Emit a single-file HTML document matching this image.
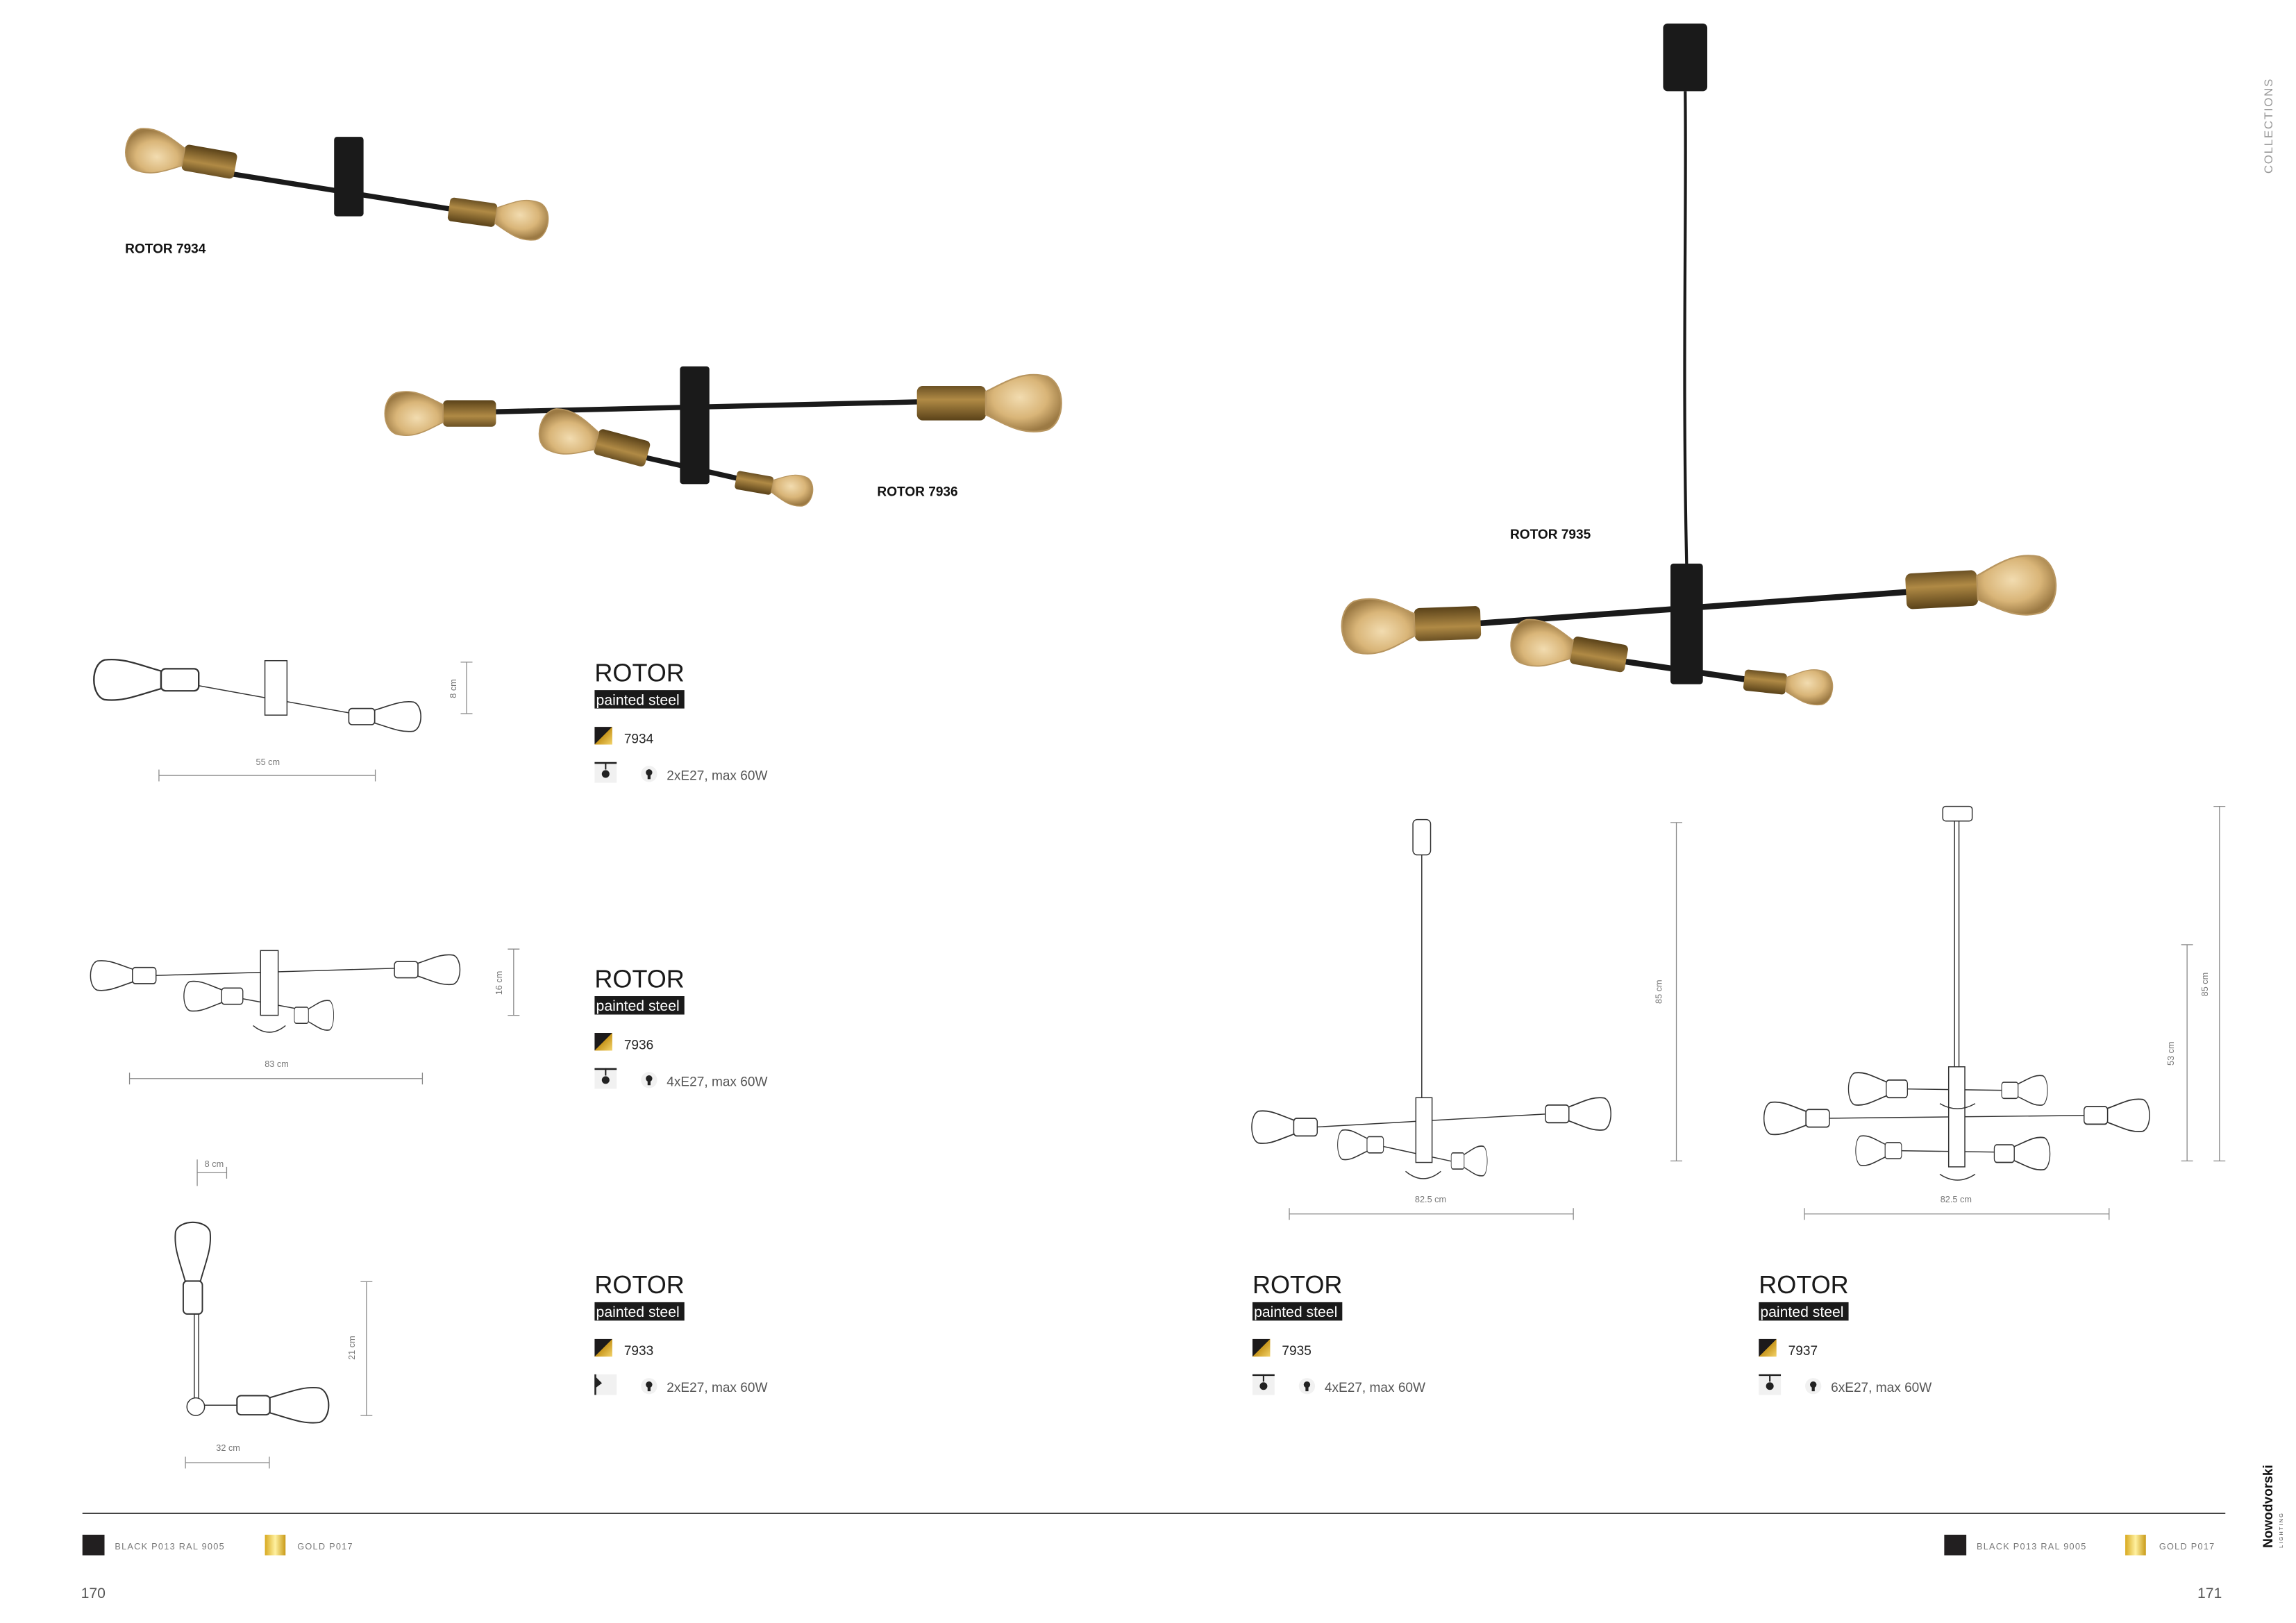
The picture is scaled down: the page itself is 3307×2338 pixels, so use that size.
<!DOCTYPE html>
<html><head><meta charset="utf-8"><style>
html,body{margin:0;padding:0;background:#fff}
svg{display:block}
text{font-family:"Liberation Sans",sans-serif}
</style></head><body>
<svg width="3307" height="2338" viewBox="0 0 1560 1103" preserveAspectRatio="none" xmlns="http://www.w3.org/2000/svg">
<defs>
<linearGradient id="gold" x1="0" y1="0" x2="0" y2="1"><stop offset="0" stop-color="#6b5124"/><stop offset="0.4" stop-color="#b08a45"/><stop offset="1" stop-color="#5a4219"/></linearGradient>
<linearGradient id="goldsw" x1="0" y1="0" x2="1" y2="0"><stop offset="0" stop-color="#d8a920"/><stop offset="0.5" stop-color="#fff1a0"/><stop offset="1" stop-color="#c99a18"/></linearGradient>
<linearGradient id="diag" x1="0" y1="0" x2="1" y2="1"><stop offset="0.5" stop-color="#1c1a1b"/><stop offset="0.5" stop-color="#c8961c"/><stop offset="1" stop-color="#f3d36a"/></linearGradient>
<radialGradient id="amber" cx="0.45" cy="0.4" r="0.6"><stop offset="0" stop-color="#f2dcb0"/><stop offset="0.6" stop-color="#d9b578"/><stop offset="1" stop-color="#9c7a44"/></radialGradient>
<g id="pb"><rect x="0" y="-9" width="36" height="18" rx="3" fill="url(#gold)"/><path d="M36,-6 C48,-12 56,-17 68,-14 C78,-10 78,10 68,14 C56,17 48,12 36,6Z" fill="url(#amber)" stroke="#b89660" stroke-width="0.8"/></g>
<g id="ob" fill="#fff" stroke="#333" stroke-width="0.7"><rect x="0" y="-5" width="16" height="10" rx="2"/><path d="M16,-4 C26,-7 32,-10 40,-9 C46,-7 46,7 40,9 C32,10 26,7 16,4Z"/></g>
<g id="mount"><rect x="0" y="0" width="15" height="14" fill="#f1f1f1"/><line x1="0" y1="0.5" x2="15" y2="0.5" stroke="#222" stroke-width="1.2"/><line x1="7.5" y1="0" x2="7.5" y2="5" stroke="#222" stroke-width="1"/><circle cx="7.5" cy="8" r="2.6" fill="#222"/></g>
<g id="bulbi"><circle cx="0" cy="0" r="5.5" fill="#f1f1f1"/><circle cx="0" cy="-1" r="2.2" fill="#222"/><rect x="-1" y="0.5" width="2" height="3" fill="#222"/></g>
</defs>

<!-- ROTOR 7934 photo -->
<line x1="150" y1="117" x2="312" y2="143" stroke="#1a1a1a" stroke-width="3.5"/>
<rect x="227" y="93" width="20" height="54" rx="2" fill="#1a1a1a"/>
<g transform="translate(160,113) rotate(190) scale(1.0)"><use href="#pb"/></g>
<g transform="translate(305,142) rotate(8) scale(0.9)"><use href="#pb"/></g>
<text x="85" y="172" font-size="9" font-weight="bold" fill="#111">ROTOR 7934</text>

<!-- ROTOR 7936 photo -->
<line x1="330" y1="280" x2="628" y2="273" stroke="#1a1a1a" stroke-width="3.5"/>
<line x1="430" y1="309" x2="505" y2="326" stroke="#1a1a1a" stroke-width="3.5"/>
<rect x="462" y="249" width="20" height="80" rx="2" fill="#1a1a1a"/>
<g transform="translate(337,281) rotate(180)"><use href="#pb"/></g>
<g transform="translate(623,274) scale(1.3)"><use href="#pb"/></g>
<g transform="translate(440,309) rotate(195)"><use href="#pb"/></g>
<g transform="translate(500,326) rotate(10) scale(0.7)"><use href="#pb"/></g>
<text x="596" y="337" font-size="9" font-weight="bold" fill="#111">ROTOR 7936</text>

<!-- ROTOR 7935 photo -->
<rect x="1130" y="16" width="30" height="46" rx="3" fill="#1a1a1a"/>
<path d="M1145,62 C1146,150 1143,250 1146,385" stroke="#1a1a1a" stroke-width="2" fill="none"/>
<line x1="1000" y1="424" x2="1300" y2="402" stroke="#1a1a1a" stroke-width="4"/>
<line x1="1100" y1="449" x2="1188" y2="462" stroke="#1a1a1a" stroke-width="4"/>
<rect x="1135" y="383" width="22" height="82" rx="2" fill="#1a1a1a"/>
<g transform="translate(1006,423) rotate(178) scale(1.25)"><use href="#pb"/></g>
<g transform="translate(1295,402) rotate(-3) scale(1.35)"><use href="#pb"/></g>
<g transform="translate(1105,448) rotate(190) scale(1.05)"><use href="#pb"/></g>
<g transform="translate(1185,462) rotate(6) scale(0.8)"><use href="#pb"/></g>
<text x="1026" y="366" font-size="9" font-weight="bold" fill="#111">ROTOR 7935</text>

<!-- Line drawing 7934 -->
<g stroke="#333" stroke-width="0.7" fill="#fff">
<line x1="135" y1="466" x2="240" y2="485"/>
<rect x="180" y="449" width="15" height="37"/>
<g transform="translate(135,462) scale(-1.6,1.5)"><use href="#ob"/></g>
<g transform="translate(237,487) scale(1.1)"><use href="#ob"/></g>
</g>
<g stroke="#888" stroke-width="0.6" fill="#888">
<line x1="108" y1="527" x2="255" y2="527"/><line x1="108" y1="523" x2="108" y2="531"/><line x1="255" y1="523" x2="255" y2="531"/>
<line x1="317" y1="450" x2="317" y2="485"/><line x1="313" y1="450" x2="321" y2="450"/><line x1="313" y1="485" x2="321" y2="485"/>
</g>
<text x="182" y="520" font-size="6" fill="#777" text-anchor="middle">55 cm</text>
<text x="310" y="468" font-size="6" fill="#777" text-anchor="middle" transform="rotate(-90 310 468)">8 cm</text>

<!-- Line drawing 7936 -->
<g stroke="#333" stroke-width="0.7" fill="#fff">
<line x1="104" y1="663" x2="270" y2="658"/>
<line x1="150" y1="676" x2="215" y2="688"/>
<rect x="177" y="646" width="12" height="44"/>
<g transform="translate(106,663) scale(-1.0,1.1)"><use href="#ob"/></g>
<g transform="translate(268,659) scale(1.0,1.1)"><use href="#ob"/></g>
<g transform="translate(165,677) scale(-0.9,1.1)"><use href="#ob"/></g>
<g transform="translate(200,690) scale(0.6,1.1)"><use href="#ob"/></g>
<path d="M172,697 Q183,706 194,697" fill="none"/>
</g>
<g stroke="#888" stroke-width="0.6">
<line x1="88" y1="733" x2="287" y2="733"/><line x1="88" y1="729" x2="88" y2="737"/><line x1="287" y1="729" x2="287" y2="737"/>
<line x1="349" y1="645" x2="349" y2="690"/><line x1="345" y1="645" x2="353" y2="645"/><line x1="345" y1="690" x2="353" y2="690"/>
</g>
<text x="188" y="725" font-size="6" fill="#777" text-anchor="middle">83 cm</text>
<text x="341" y="668" font-size="6" fill="#777" text-anchor="middle" transform="rotate(-90 341 668)">16 cm</text>

<!-- Line drawing 7933 -->
<g stroke="#333" stroke-width="0.7" fill="#fff">
<line x1="132" y1="892" x2="132" y2="955"/><line x1="135" y1="892" x2="135" y2="955"/>
<line x1="138" y1="955" x2="162" y2="955"/>
<circle cx="133" cy="956" r="6"/>
<g transform="translate(131,893) rotate(-90) scale(1.4,1.3)"><use href="#ob"/></g>
<g transform="translate(161,955) scale(1.4,1.3)"><use href="#ob"/></g>
</g>
<g stroke="#888" stroke-width="0.6">
<line x1="134" y1="788" x2="134" y2="806"/>
<line x1="134" y1="797" x2="154" y2="797"/><line x1="154" y1="793" x2="154" y2="801"/>
<line x1="126" y1="994" x2="183" y2="994"/><line x1="126" y1="990" x2="126" y2="998"/><line x1="183" y1="990" x2="183" y2="998"/>
<line x1="249" y1="871" x2="249" y2="962"/><line x1="245" y1="871" x2="253" y2="871"/><line x1="245" y1="962" x2="253" y2="962"/>
</g>
<text x="139" y="793" font-size="6" fill="#777">8 cm</text>
<text x="155" y="986" font-size="6" fill="#777" text-anchor="middle">32 cm</text>
<text x="241" y="916" font-size="6" fill="#777" text-anchor="middle" transform="rotate(-90 241 916)">21 cm</text>

<!-- Line drawing 7935 -->
<g stroke="#333" stroke-width="0.7" fill="#fff">
<rect x="960" y="557" width="12" height="24" rx="3"/>
<line x1="966" y1="581" x2="966" y2="747"/>
<line x1="893" y1="766" x2="1052" y2="757"/>
<line x1="930" y1="777" x2="990" y2="790"/>
<rect x="962" y="746" width="11" height="44"/>
<g transform="translate(895,766) scale(-1.0,1.2)"><use href="#ob"/></g>
<g transform="translate(1050,757) scale(1.0,1.2)"><use href="#ob"/></g>
<g transform="translate(940,778) scale(-0.7,1.1)"><use href="#ob"/></g>
<g transform="translate(986,789) scale(0.55,1.1)"><use href="#ob"/></g>
<path d="M955,796 Q967,806 979,796" fill="none"/>
</g>
<g stroke="#888" stroke-width="0.6">
<line x1="876" y1="825" x2="1069" y2="825"/><line x1="876" y1="821" x2="876" y2="829"/><line x1="1069" y1="821" x2="1069" y2="829"/>
<line x1="1139" y1="559" x2="1139" y2="789"/><line x1="1135" y1="559" x2="1143" y2="559"/><line x1="1135" y1="789" x2="1143" y2="789"/>
</g>
<text x="972" y="817" font-size="6" fill="#777" text-anchor="middle">82.5 cm</text>
<text x="1129" y="674" font-size="6" fill="#777" text-anchor="middle" transform="rotate(-90 1129 674)">85 cm</text>

<!-- Line drawing 7937 -->
<g stroke="#333" stroke-width="0.7" fill="#fff">
<rect x="1320" y="548" width="20" height="10" rx="2"/>
<line x1="1328" y1="558" x2="1328" y2="725"/><line x1="1331" y1="558" x2="1331" y2="725"/>
<line x1="1290" y1="740" x2="1360" y2="741"/>
<line x1="1240" y1="760" x2="1420" y2="758"/>
<line x1="1290" y1="782" x2="1360" y2="783"/>
<rect x="1324" y="725" width="11" height="68"/>
<g transform="translate(1296,740) scale(-0.9,1.2)"><use href="#ob"/></g>
<g transform="translate(1360,741) scale(0.7,1.1)"><use href="#ob"/></g>
<g transform="translate(1243,760) scale(-1.0,1.2)"><use href="#ob"/></g>
<g transform="translate(1416,758) scale(1.0,1.2)"><use href="#ob"/></g>
<g transform="translate(1292,782) scale(-0.7,1.1)"><use href="#ob"/></g>
<g transform="translate(1355,784) scale(0.85,1.2)"><use href="#ob"/></g>
<path d="M1318,750 Q1330,757 1342,750" fill="none"/>
<path d="M1318,798 Q1330,806 1342,798" fill="none"/>
</g>
<g stroke="#888" stroke-width="0.6">
<line x1="1226" y1="825" x2="1433" y2="825"/><line x1="1226" y1="821" x2="1226" y2="829"/><line x1="1433" y1="821" x2="1433" y2="829"/>
<line x1="1486" y1="642" x2="1486" y2="789"/><line x1="1482" y1="642" x2="1490" y2="642"/><line x1="1482" y1="789" x2="1490" y2="789"/>
<line x1="1508" y1="548" x2="1508" y2="789"/><line x1="1504" y1="548" x2="1512" y2="548"/><line x1="1504" y1="789" x2="1512" y2="789"/>
</g>
<text x="1329" y="817" font-size="6" fill="#777" text-anchor="middle">82.5 cm</text>
<text x="1477" y="716" font-size="6" fill="#777" text-anchor="middle" transform="rotate(-90 1477 716)">53 cm</text>
<text x="1500" y="669" font-size="6" fill="#777" text-anchor="middle" transform="rotate(-90 1500 669)">85 cm</text>

<!-- Text blocks -->
<g>
<text x="404" y="463" font-size="17" fill="#1a1a1a">ROTOR</text>
<rect x="404" y="469" width="61" height="12.5" fill="#1a1a1a"/>
<text x="405" y="479" font-size="10" fill="#fff">painted steel</text>
<rect x="404" y="494" width="12" height="12" fill="url(#diag)"/>
<text x="424" y="505" font-size="9" fill="#222">7934</text>
<use href="#mount" x="404" y="518"/>
<use href="#bulbi" x="441" y="526"/>
<text x="453" y="530" font-size="9" fill="#555">2xE27, max 60W</text>
</g>
<g>
<text x="404" y="671" font-size="17" fill="#1a1a1a">ROTOR</text>
<rect x="404" y="677" width="61" height="12.5" fill="#1a1a1a"/>
<text x="405" y="687" font-size="10" fill="#fff">painted steel</text>
<rect x="404" y="702" width="12" height="12" fill="url(#diag)"/>
<text x="424" y="713" font-size="9" fill="#222">7936</text>
<use href="#mount" x="404" y="726"/>
<use href="#bulbi" x="441" y="734"/>
<text x="453" y="738" font-size="9" fill="#555">4xE27, max 60W</text>
</g>
<g>
<text x="404" y="879" font-size="17" fill="#1a1a1a">ROTOR</text>
<rect x="404" y="885" width="61" height="12.5" fill="#1a1a1a"/>
<text x="405" y="895" font-size="10" fill="#fff">painted steel</text>
<rect x="404" y="910" width="12" height="12" fill="url(#diag)"/>
<text x="424" y="921" font-size="9" fill="#222">7933</text>
<rect x="404" y="934" width="15" height="14" fill="#f1f1f1"/><line x1="404.5" y1="934" x2="404.5" y2="948" stroke="#222" stroke-width="1.2"/><path d="M405,936 L409,940 L405,943Z" fill="#222"/>
<use href="#bulbi" x="441" y="942"/>
<text x="453" y="946" font-size="9" fill="#555">2xE27, max 60W</text>
</g>
<g>
<text x="851" y="879" font-size="17" fill="#1a1a1a">ROTOR</text>
<rect x="851" y="885" width="61" height="12.5" fill="#1a1a1a"/>
<text x="852" y="895" font-size="10" fill="#fff">painted steel</text>
<rect x="851" y="910" width="12" height="12" fill="url(#diag)"/>
<text x="871" y="921" font-size="9" fill="#222">7935</text>
<use href="#mount" x="851" y="934"/>
<use href="#bulbi" x="888" y="942"/>
<text x="900" y="946" font-size="9" fill="#555">4xE27, max 60W</text>
</g>
<g>
<text x="1195" y="879" font-size="17" fill="#1a1a1a">ROTOR</text>
<rect x="1195" y="885" width="61" height="12.5" fill="#1a1a1a"/>
<text x="1196" y="895" font-size="10" fill="#fff">painted steel</text>
<rect x="1195" y="910" width="12" height="12" fill="url(#diag)"/>
<text x="1215" y="921" font-size="9" fill="#222">7937</text>
<use href="#mount" x="1195" y="934"/>
<use href="#bulbi" x="1232" y="942"/>
<text x="1244" y="946" font-size="9" fill="#555">6xE27, max 60W</text>
</g>

<!-- Footer -->
<line x1="56" y1="1028.5" x2="1512" y2="1028.5" stroke="#222" stroke-width="0.8"/>
<rect x="56" y="1043" width="15" height="14" fill="#221f20"/>
<text x="78" y="1053" font-size="6" fill="#777" letter-spacing="0.6">BLACK   P013 RAL 9005</text>
<rect x="180" y="1043" width="14" height="14" fill="url(#goldsw)"/>
<text x="202" y="1053" font-size="6" fill="#777" letter-spacing="0.6">GOLD   P017</text>
<rect x="1321" y="1043" width="15" height="14" fill="#221f20"/>
<text x="1343" y="1053" font-size="6" fill="#777" letter-spacing="0.6">BLACK   P013 RAL 9005</text>
<rect x="1444" y="1043" width="14" height="14" fill="url(#goldsw)"/>
<text x="1467" y="1053" font-size="6" fill="#777" letter-spacing="0.6">GOLD   P017</text>
<text x="55" y="1086" font-size="10" fill="#555">170</text>
<text x="1493" y="1086" font-size="10" fill="#555">171</text>
<text x="1544" y="118" font-size="8" fill="#999" letter-spacing="0.8" transform="rotate(-90 1544 118)">COLLECTIONS</text>
<text x="1544" y="1052" font-size="9" font-weight="bold" fill="#111" transform="rotate(-90 1544 1052)">Nowodvorski</text>
<text x="1551" y="1052" font-size="3.5" fill="#444" letter-spacing="1" transform="rotate(-90 1551 1052)">LIGHTING</text>
</svg>
</body></html>
